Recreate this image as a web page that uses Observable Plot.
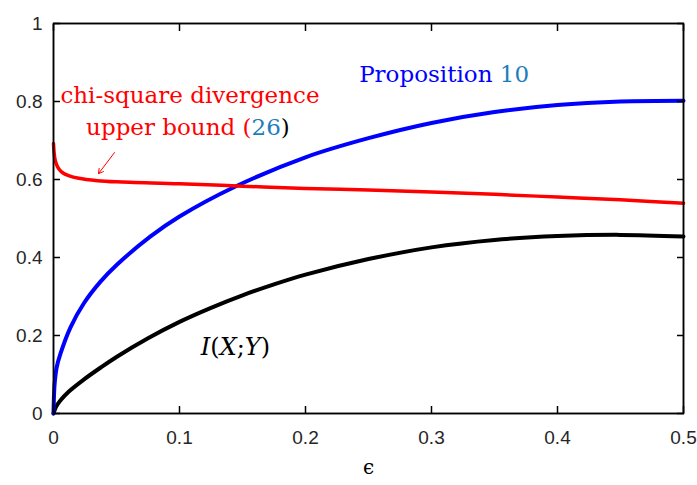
<!DOCTYPE html>
<html>
<head>
<meta charset="utf-8">
<script src="https://cdn.jsdelivr.net/npm/d3@7"></script>
<script src="https://cdn.jsdelivr.net/npm/@observablehq/plot@0.6"></script>
<style>
  html, body { margin: 0; padding: 0; background: #fff; }
  #chart svg { display: block; }
</style>
</head>
<body>
<div id="chart"></div>
<script>
// ---- data ----
const epsBlack = [0, 0.002, 0.0056, 0.012, 0.024, 0.0375, 0.05, 0.075, 0.1, 0.125, 0.15, 0.175, 0.2, 0.25, 0.3, 0.35, 0.4, 0.45, 0.5];
const mutualInfo = [0, 0.017, 0.034, 0.056, 0.087, 0.118, 0.145, 0.193, 0.235, 0.271, 0.303, 0.331, 0.356, 0.396, 0.426, 0.445, 0.455, 0.458, 0.454];

const epsBlue = [0, 0.0005, 0.001, 0.0025, 0.0056, 0.0135, 0.024, 0.0373, 0.0505, 0.077, 0.1, 0.1444, 0.2, 0.25, 0.3, 0.35, 0.4, 0.45, 0.5];
const proposition10 = [0, 0.055, 0.08, 0.118, 0.154, 0.221, 0.282, 0.338, 0.382, 0.454, 0.505, 0.582, 0.657, 0.706, 0.745, 0.773, 0.791, 0.8, 0.802];

const epsRed = [0, 0.0005, 0.001, 0.002, 0.004, 0.007, 0.012, 0.02, 0.035, 0.05, 0.1, 0.15, 0.2, 0.25, 0.3, 0.35, 0.4, 0.45, 0.5];
const chiSquareBound = [0.692, 0.668, 0.655, 0.642, 0.628, 0.618, 0.61, 0.603, 0.597, 0.594, 0.589, 0.583, 0.577, 0.573, 0.568, 0.562, 0.555, 0.548, 0.539];

const xTicks = [0, 0.1, 0.2, 0.3, 0.4, 0.5];
const xTickLabels = ["0", "0.1", "0.2", "0.3", "0.4", "0.5"];
const yTicks = [0, 0.2, 0.4, 0.6, 0.8, 1];
const yTickLabels = ["0", "0.2", "0.4", "0.6", "0.8", "1"];
const xDomain = [0, 0.5];
const yDomain = [0, 1];

// annotation anchors (data coordinates)
const chiLabel1 = {text: "chi-square divergence", x: 0.1083, y: 0.795};
const chiLabel2 = {text: "upper bound (26)", x: 0.1067, y: 0.713};
const propLabel = {text: "Proposition 10", x: 0.31, y: 0.851};
const miLabel = {text: "I(X;Y)", x: 0.1444, y: 0.149};
const arrowFrom = {x: 0.0484, y: 0.669};
const arrowTo = {x: 0.0357, y: 0.615};
const xLabel = "ϵ";

// ---- build tables ----
const blackData = epsBlack.map((e, i) => ({eps: e, v: mutualInfo[i]}));
const blueData = epsBlue.map((e, i) => ({eps: e, v: proposition10[i]}));
const redData = epsRed.map((e, i) => ({eps: e, v: chiSquareBound[i]}));
// closed outline of the plotting box, from the axis domains
const boxOutline = [
  {x: xDomain[0], y: yDomain[0]}, {x: xDomain[1], y: yDomain[0]},
  {x: xDomain[1], y: yDomain[1]}, {x: xDomain[0], y: yDomain[1]},
  {x: xDomain[0], y: yDomain[0]}
];

const labelColor = "#262626";
const boxColor = "#000";
const serif = "'DejaVu Serif', serif";
const tick = 7;

const chart = Plot.plot({
  width: 697, height: 485,
  marginLeft: 53, marginRight: 14, marginTop: 23, marginBottom: 72,
  x: {domain: xDomain}, y: {domain: yDomain},
  style: {fontFamily: "'Liberation Sans', Arial, sans-serif", fontSize: "19px", color: "#000", background: "#fff", overflow: "visible"},
  marks: [
    Plot.axisX(xTicks, {anchor: "bottom", tickSize: 0, tickPadding: 17, tickFormat: (d, i) => xTickLabels[i], label: null, fill: labelColor}),
    Plot.axisY(yTicks, {anchor: "left", tickSize: 0, tickPadding: 11, tickFormat: (d, i) => yTickLabels[i], label: null, fill: labelColor}),
    Plot.line(blackData, {x: "eps", y: "v", stroke: "#000", strokeWidth: 4, curve: "catmull-rom"}),
    Plot.line(blueData, {x: "eps", y: "v", stroke: "#0000ff", strokeWidth: 4, curve: "catmull-rom"}),
    Plot.line(redData, {x: "eps", y: "v", stroke: "#ff0000", strokeWidth: 3.5, curve: "catmull-rom"}),
    Plot.text([xLabel], {frameAnchor: "bottom", dy: 60, text: d => d, fontFamily: "'DejaVu Serif', serif", fontSize: 20, fill: "#000"}),
    Plot.text([chiLabel1, chiLabel2], {x: "x", y: "y", text: "text", fill: "#ff0000", fontFamily: serif, fontSize: 23, lineAnchor: "bottom"}),
    Plot.text([propLabel], {x: "x", y: "y", text: "text", fill: "#0000ff", fontFamily: serif, fontSize: 23, lineAnchor: "bottom"}),
    Plot.text([miLabel], {x: "x", y: "y", text: "text", fill: "#000", fontFamily: serif, fontSize: 24, lineAnchor: "bottom", letterSpacing: "2px"}),
    Plot.arrow([{x1: arrowFrom.x, y1: arrowFrom.y, x2: arrowTo.x, y2: arrowTo.y}], {x1: "x1", y1: "y1", x2: "x2", y2: "y2", stroke: "#ff0000", strokeWidth: 1, headLength: 8}),
    // box and inward ticks on all four sides, drawn last so nothing covers them
    Plot.line(boxOutline, {x: "x", y: "y", stroke: boxColor, strokeWidth: 1.5, strokeLinejoin: "miter", strokeLinecap: "square"}),
    Plot.frame({stroke: boxColor, strokeWidth: 1.5}),
    Plot.axisX(xTicks, {anchor: "bottom", tickSize: tick, dy: -tick, tickFormat: () => "", label: null, stroke: boxColor, strokeWidth: 1.5}),
    Plot.axisX(xTicks, {anchor: "top", tickSize: tick, dy: tick, tickFormat: () => "", label: null, stroke: boxColor, strokeWidth: 1.5}),
    Plot.axisY(yTicks, {anchor: "left", tickSize: tick, dx: tick, tickFormat: () => "", label: null, stroke: boxColor, strokeWidth: 1.5}),
    Plot.axisY(yTicks, {anchor: "right", tickSize: tick, dx: -tick, tickFormat: () => "", label: null, stroke: boxColor, strokeWidth: 1.5})
  ]
});

document.getElementById("chart").appendChild(chart);

// mixed-colour / mixed-style rich text
const refColor = "#1b7dbc";
function richen(content, parts) {
  d3.select(chart).selectAll("text").filter(function() { return this.textContent === content; }).each(function() {
    const t = d3.select(this);
    t.text(null);
    parts.forEach(p => {
      const s = t.append("tspan").text(p.t);
      if (p.fill) s.attr("fill", p.fill);
      if (p.italic) s.attr("font-style", "italic");
    });
  });
}
richen("upper bound (26)", [{t: "upper bound ("}, {t: "26", fill: refColor}, {t: ")", fill: "#000"}]);
richen("Proposition 10", [{t: "Proposition "}, {t: "10", fill: refColor}]);
richen("I(X;Y)", [{t: "I", italic: true}, {t: "("}, {t: "X", italic: true}, {t: ";"}, {t: "Y", italic: true}, {t: ")"}]);
</script>
</body>
</html>
